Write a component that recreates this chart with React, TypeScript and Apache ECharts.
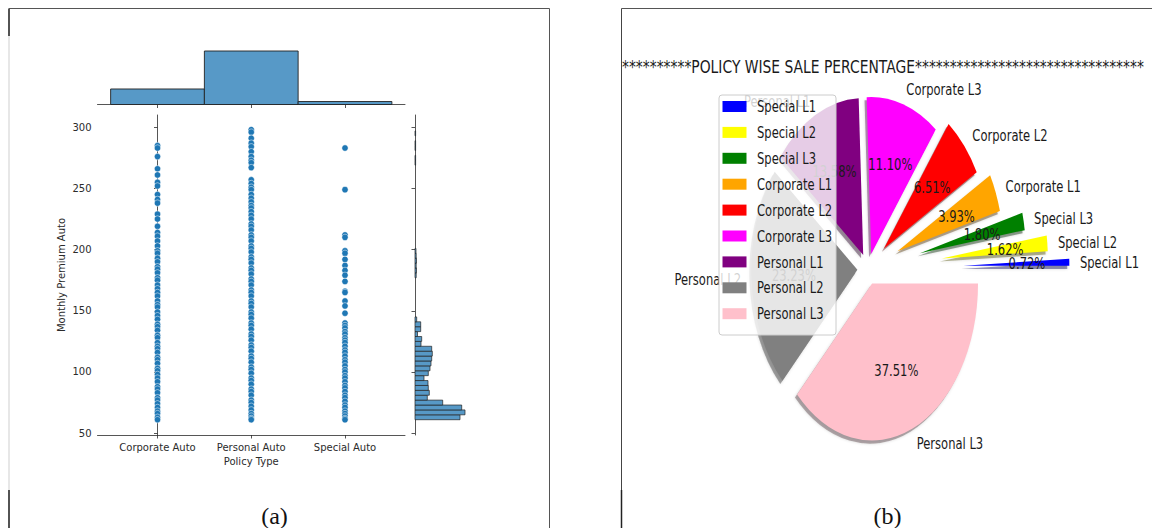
import { useEffect, useRef } from "react";
import * as echarts from "echarts";

// ---------------- data: panel (a) ----------------
const policyTypes = ["Corporate Auto", "Personal Auto", "Special Auto"];
const policyTypeCounts = [1968, 6788, 378];
const premiumTicks = [50, 100, 150, 200, 250, 300];

const corporatePremiums = [
  285, 283, 276, 266, 261, 255, 252, 245, 241, 238, 229, 225, 219, 214, 211, 207, 203,
  199, 197, 193, 190, 186, 184, 181, 177, 175, 171, 168, 165, 162, 158, 155, 153, 149,
  146, 143, 139, 137, 134, 130, 128, 124, 121, 119, 116, 112, 110, 107, 103, 101, 98,
  95, 92, 88, 86, 83, 79, 77, 74, 71, 68, 66, 63, 61,
];
const personalPremiums = [
  298, 296, 291, 287, 284, 280, 276, 273, 271, 267, 257, 254, 251, 249, 245, 242, 239,
  236, 234, 231, 228, 225, 221, 219, 216, 212, 210, 207, 203, 201, 198, 194, 192, 189,
  185, 183, 180, 176, 174, 171, 167, 165, 162, 158, 156, 153, 149, 147, 144, 140, 138,
  135, 131, 129, 126, 122, 120, 117, 113, 111, 108, 104, 102, 99, 95, 93, 90, 86, 84,
  81, 77, 75, 72, 69, 66, 64, 62, 61,
];
const specialPremiums = [
  283, 249, 212, 210, 199, 197, 192, 187, 183, 179, 174, 166, 165, 158, 154, 148, 140,
  138, 136, 133, 131, 128, 126, 124, 121, 118, 116, 113, 110, 108, 105, 102, 100, 97,
  95, 92, 89, 87, 84, 81, 79, 76, 73, 71, 68, 66, 64, 62, 61,
];

const premiumBinLows = [
  61, 65, 69, 73, 77, 81, 85, 89, 93, 97, 101, 105, 109, 113, 117, 121, 125, 129, 133,
  137, 141, 177, 181, 185, 189, 193, 197, 269, 273, 281, 285, 293,
];
const premiumBinCounts = [
  450, 500, 467, 277, 123, 143, 133, 130, 90, 133, 150, 160, 167, 173, 167, 60, 67, 25,
  57, 57, 17, 12, 15, 12, 15, 12, 10, 6, 6, 6, 6, 6,
];
const premiumBinWidth = 4;

// ---------------- data: panel (b) ----------------
const policyLevels = [
  "Special L1", "Special L2", "Special L3",
  "Corporate L1", "Corporate L2", "Corporate L3",
  "Personal L1", "Personal L2", "Personal L3",
];
const policyShares = [0.72, 1.62, 1.8, 3.93, 6.51, 11.1, 13.58, 23.23, 37.51];
const policyColors = [
  "#0000ff", "#ffff00", "#008000",
  "#ffa500", "#ff0000", "#ff00ff",
  "#800080", "#808080", "#ffc0cb",
];
const policyExplode = [0.9, 0.7, 0.5, 0.3, 0.2, 0.1, 0.1, 0.1, 0.1];
const pieTitle = "*".repeat(10) + "POLICY WISE SALE PERCENTAGE" + "*".repeat(33);

// ---------------- layout / style ----------------
const FONT = "'DejaVu Sans', sans-serif";
const SERIF = "'Liberation Serif', 'DejaVu Serif', serif";
const INK = "#2b2b2b";
const HIST_FILL = "#5799c7";
const PIE_CX = 868;
const PIE_CY = 269;
const PIE_RX = 106;
const PIE_RY = 157;
const TXT_SX = 0.75;
const PIE_FONT = 15.4;

function darker(hex: string, f: number) {
  const n = parseInt(hex.slice(1), 16);
  const r = Math.round(((n >> 16) & 255) * f);
  const g = Math.round(((n >> 8) & 255) * f);
  const b = Math.round((n & 255) * f);
  return `rgb(${r},${g},${b})`;
}

function buildOption() {
  const total = policyShares.reduce((a, b) => a + b, 0);
  const startDeg: number[] = [];
  let acc = 0;
  for (const v of policyShares) {
    startDeg.push((acc / total) * 360);
    acc += v;
  }

  const scatterData = [
    ...corporatePremiums.map((v) => [0, v]),
    ...personalPremiums.map((v) => [1, v]),
    ...specialPremiums.map((v) => [2, v]),
  ];

  const tickStyle = { show: true, inside: false, length: 3.5, lineStyle: { color: INK, width: 0.8 } };
  const lineStyle = { show: true, lineStyle: { color: INK, width: 0.8 } };

  const legendEls: any[] = [
    {
      type: "rect",
      z: 20,
      shape: { x: 719, y: 95, width: 117, height: 240, r: 3 },
      style: { fill: "rgba(255,255,255,0.8)", stroke: "#cccccc", lineWidth: 1 },
    },
  ];
  policyLevels.forEach((name, i) => {
    legendEls.push({
      type: "rect",
      z: 21,
      shape: { x: 722.5, y: 101 + i * 25.9, width: 24, height: 11 },
      style: { fill: policyColors[i] },
    });
    legendEls.push({
      type: "text",
      z: 21,
      x: 757,
      y: 106.5 + i * 25.9,
      scaleX: TXT_SX,
      style: { text: name, fontSize: PIE_FONT, fontFamily: FONT, fill: "#1a1a1a", align: "left", verticalAlign: "middle" },
    });
  });

  const borderEls: any[] = [
    // panel (a) frame
    { type: "line", shape: { x1: 9, y1: 8.5, x2: 549.5, y2: 8.5 }, style: { stroke: "#555", lineWidth: 1 } },
    { type: "line", shape: { x1: 549.5, y1: 8.5, x2: 549.5, y2: 528 }, style: { stroke: "#555", lineWidth: 1 } },
    { type: "line", shape: { x1: 9, y1: 8.5, x2: 9, y2: 528 }, style: { stroke: "#cfcfcf", lineWidth: 1 } },
    { type: "line", shape: { x1: 9, y1: 8.5, x2: 9, y2: 36 }, style: { stroke: "#222", lineWidth: 1.5 } },
    { type: "line", shape: { x1: 9, y1: 490, x2: 9, y2: 528 }, style: { stroke: "#222", lineWidth: 1.5 } },
    // panel (b) frame
    { type: "line", shape: { x1: 621.5, y1: 8.5, x2: 1152, y2: 8.5 }, style: { stroke: "#555", lineWidth: 1 } },
    { type: "line", shape: { x1: 621.5, y1: 8.5, x2: 621.5, y2: 528 }, style: { stroke: "#444", lineWidth: 1 } },
    { type: "line", shape: { x1: 621.5, y1: 490, x2: 621.5, y2: 528 }, style: { stroke: "#222", lineWidth: 1.5 } },
    // captions
    {
      type: "text", x: 274.5, y: 516,
      style: { text: "(a)", fontSize: 24, fontFamily: SERIF, fill: "#111", align: "center", verticalAlign: "middle" },
    },
    {
      type: "text", x: 887.5, y: 516,
      style: { text: "(b)", fontSize: 24, fontFamily: SERIF, fill: "#111", align: "center", verticalAlign: "middle" },
    },
    // pie title
    {
      type: "text", x: 622, y: 67, scaleX: TXT_SX, z: 20,
      style: { text: pieTitle, fontSize: 18.5, fontFamily: FONT, fill: "#1a1a1a", align: "left", verticalAlign: "middle" },
    },
  ];

  return {
    animation: false,
    backgroundColor: "#ffffff",
    textStyle: { fontFamily: FONT },
    grid: [
      { left: 97.5, top: 115, width: 307.5, height: 320 },
      { left: 97.5, top: 51, width: 307.5, height: 53.5 },
      { left: 415, top: 115, width: 52, height: 320 },
    ],
    xAxis: [
      {
        gridIndex: 0, type: "value", min: -0.64, max: 2.64,
        axisLine: lineStyle,
        axisTick: { ...tickStyle, customValues: [0, 1, 2] },
        axisLabel: {
          customValues: [0, 1, 2], margin: 7, fontSize: 10, color: INK, fontFamily: FONT,
          formatter: (v: number) => policyTypes[Math.round(v)] ?? "",
        },
        splitLine: { show: false },
        name: "Policy Type", nameLocation: "middle", nameGap: 20,
        nameTextStyle: { fontSize: 10, color: INK, fontFamily: FONT },
      },
      {
        gridIndex: 1, type: "value", min: -0.64, max: 2.64,
        axisLine: lineStyle,
        axisTick: { ...tickStyle, customValues: [0, 1, 2] },
        axisLabel: { show: false },
        splitLine: { show: false },
      },
      {
        gridIndex: 2, type: "value", min: 0, max: 520, show: false,
        splitLine: { show: false },
      },
    ],
    yAxis: [
      {
        gridIndex: 0, type: "value", min: 48.5, max: 310,
        axisLine: lineStyle,
        axisTick: { ...tickStyle, customValues: premiumTicks },
        axisLabel: { customValues: premiumTicks, margin: 6, fontSize: 10, color: INK, fontFamily: FONT },
        splitLine: { show: false },
        name: "Monthly Premium Auto", nameLocation: "middle", nameGap: 31, nameRotate: 90,
        nameTextStyle: { fontSize: 10, color: INK, fontFamily: FONT },
      },
      {
        gridIndex: 1, type: "value", min: 0, max: 6788, show: false,
        splitLine: { show: false },
      },
      {
        gridIndex: 2, type: "value", min: 48.5, max: 310,
        axisLine: lineStyle,
        axisTick: { ...tickStyle, customValues: premiumTicks },
        axisLabel: { show: false },
        splitLine: { show: false },
      },
    ],
    series: [
      {
        type: "scatter", xAxisIndex: 0, yAxisIndex: 0, silent: true,
        symbolSize: 6.4,
        itemStyle: { color: "#1f77b4", borderColor: "#ffffff", borderWidth: 0.5, opacity: 1 },
        data: scatterData,
      },
      {
        type: "custom", xAxisIndex: 1, yAxisIndex: 1, silent: true,
        data: policyTypeCounts.map((c, i) => [i, c]),
        renderItem: (_p: any, api: any) => {
          const i = api.value(0);
          const c = api.value(1);
          const a = api.coord([i - 0.5, c]);
          const b = api.coord([i + 0.5, 0]);
          return {
            type: "rect",
            shape: { x: a[0], y: a[1], width: b[0] - a[0], height: b[1] - a[1] },
            style: { fill: HIST_FILL, stroke: "#222", lineWidth: 0.9 },
          };
        },
      },
      {
        type: "custom", xAxisIndex: 2, yAxisIndex: 2, silent: true,
        data: premiumBinLows.map((lo, i) => [premiumBinCounts[i], lo]),
        renderItem: (_p: any, api: any) => {
          const c = api.value(0);
          const lo = api.value(1);
          const a = api.coord([0, lo + premiumBinWidth]);
          const b = api.coord([c, lo]);
          return {
            type: "rect",
            shape: { x: a[0], y: a[1], width: b[0] - a[0], height: b[1] - a[1] },
            style: { fill: HIST_FILL, stroke: "#222", lineWidth: 0.7 },
          };
        },
      },
      {
        type: "custom", coordinateSystem: "none", silent: true, z: 3,
        data: policyShares,
        renderItem: (params: any, api: any) => {
          const i = params.dataIndex;
          const v = api.value(0);
          const a0 = (startDeg[i] * Math.PI) / 180;
          const a1 = a0 + (v / total) * Math.PI * 2;
          const mid = (a0 + a1) / 2;
          const c = Math.cos(mid);
          const s = Math.sin(mid);
          const e = policyExplode[i];
          const ox = PIE_CX + e * PIE_RX * c;
          const oy = PIE_CY - e * PIE_RY * s;
          const shape = { cx: 0, cy: 0, r0: 0, r: PIE_RY, startAngle: -a1, endAngle: -a0, clockwise: true };
          return {
            type: "group",
            children: [
              {
                type: "sector", x: ox - 0.02 * PIE_RX, y: oy + 0.02 * PIE_RY,
                scaleX: PIE_RX / PIE_RY, shape, z2: 0,
                style: {
                  fill: darker(policyColors[i], 0.3), opacity: 0.4,
                  shadowBlur: 3, shadowColor: "rgba(0,0,0,0.4)",
                },
              },
              {
                type: "sector", x: ox, y: oy, scaleX: PIE_RX / PIE_RY, shape, z2: 5,
                style: { fill: policyColors[i] },
              },
              {
                type: "text", x: ox + 0.6 * PIE_RX * c, y: oy - 0.6 * PIE_RY * s,
                scaleX: TXT_SX, z2: 10,
                style: {
                  text: v.toFixed(2) + "%", fontSize: PIE_FONT, fontFamily: FONT, fill: "#1a1a1a",
                  align: "center", verticalAlign: "middle",
                },
              },
              {
                type: "text", x: ox + 1.1 * PIE_RX * c, y: oy - 1.1 * PIE_RY * s,
                scaleX: TXT_SX, z2: 10,
                style: {
                  text: policyLevels[i], fontSize: PIE_FONT, fontFamily: FONT, fill: "#1a1a1a",
                  align: c >= 0 ? "left" : "right", verticalAlign: "middle",
                },
              },
            ],
          };
        },
      },
    ],
    graphic: { elements: [...borderEls, ...legendEls] },
  };
}

export default function App() {
  const ref = useRef<HTMLDivElement>(null);
  useEffect(() => {
    if (!ref.current) return;
    const chart = echarts.init(ref.current, null, { renderer: "svg", width: 1152, height: 528 });
    chart.setOption(buildOption() as any);
    return () => chart.dispose();
  }, []);
  return (
    <div
      ref={ref}
      style={{ position: "absolute", left: 0, top: 0, width: 1152, height: 528, background: "#fff" }}
    />
  );
}
